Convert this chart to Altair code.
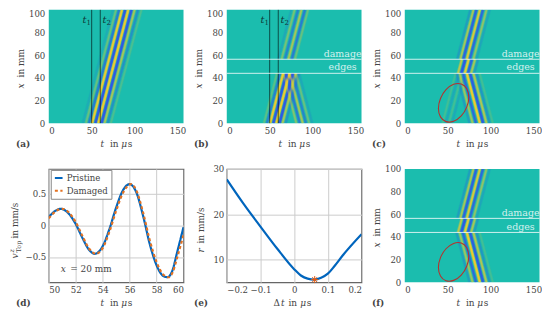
import altair as alt
import pandas as pd

SERIF = "DejaVu Serif"
TEAL = "#1BBDAE"
INK = "#444444"
COL = {"Y": "#F2CB2C", "B": "#2F55E6"}
W, H = 135.5, 114
TICK = 8.6
LAB = 9

# ---------- heat-map ridges: t at the lower / upper end of each band section ----------
A_T0 = [39.6, 43.3, 46.9, 50.5, 54.4, 57.8, 61.6, 65.0, 68.7, 72.4]
A_T1 = [74.6, 78.3, 81.9, 85.3, 89.1, 92.6, 96.4, 100.0, 104.0, 108.0]
A_K = ["B", "Y", "B", "Y", "B", "Y", "B", "Y", "B", "Y"]
A_O = [0.1, 0.25, 0.5, 0.95, 1.0, 1.0, 1.0, 0.5, 0.3, 0.15]

# (b) incident up to lower edge, reflected down, transmitted above
B1_T0 = [43.3, 46.9, 50.5, 54.4, 57.8, 61.6, 65.0, 68.7]
B1_T1 = [58.5, 62.1, 65.7, 69.6, 73.0, 76.8, 80.2, 83.9]
B1_K = ["Y", "B", "Y", "B", "Y", "B", "Y", "B"]
B1_O = [0.2, 0.45, 0.95, 1.0, 1.0, 1.0, 0.5, 0.25]
B2_T0 = [81.0, 85.0, 88.5, 92.2, 96.0, 99.6]
B2_T1 = [66.0, 69.7, 73.3, 77.0, 80.7, 84.4]
B2_K = ["Y", "B", "Y", "B", "Y", "B"]
B2_O = [0.35, 0.5, 0.5, 0.4, 0.25, 0.12]
B3_T0 = [59.9, 63.8, 67.8, 71.8, 75.8, 79.5]
B3_T1 = [75.1, 79.0, 83.0, 87.0, 91.0, 94.7]
B3_K = ["B", "Y", "B", "Y", "B", "Y"]
B3_O = [0.12, 0.3, 0.4, 0.5, 0.5, 0.25]

# (c, f) left-going below the damage, zig-zag inside it, right-going above
C1_T0 = [75.4, 79.0, 83.0, 87.5, 91.3, 95.2, 98.9, 102.6]
C1_T1 = [60.2, 63.8, 67.7, 72.3, 76.1, 80.0, 83.7, 87.4]
C1_K = ["B", "Y", "B", "Y", "B", "Y", "B", "Y"]
C1_O = [0.2, 0.45, 0.7, 1.0, 0.9, 0.55, 0.25, 0.12]
C2_T0 = [62.0, 66.0, 70.0, 73.7, 77.4, 81.0]
C2_T1 = [66.5, 70.5, 74.5, 78.2, 81.9, 85.5]
C2_K = ["Y", "B", "Y", "B", "Y", "B"]
C2_O = [0.6, 1.0, 0.9, 0.8, 0.5, 0.2]
C3_T0 = [61.1, 64.8, 68.2, 72.3, 75.8, 80.0, 83.7]
C3_T1 = [76.3, 80.0, 83.4, 87.5, 91.0, 95.2, 98.9]
C3_K = ["B", "Y", "B", "Y", "B", "Y", "B"]
C3_O = [0.2, 0.5, 0.8, 0.8, 0.7, 0.4, 0.15]
C4_T0 = [44.0, 47.8, 51.5, 55.2]
C4_T1 = [59.2, 63.0, 66.7, 70.4]
C4_K = ["Y", "B", "Y", "B"]
C4_O = [0.12, 0.12, 0.12, 0.12]

T_LINES = [50, 60]
EDGES = [44, 56.4]

ELL_T = [74.6, 72.2, 65.8, 56.9, 48.05, 41.6, 39.2, 41.6, 48.05, 56.9, 65.8, 72.2]
ELL_X = [23.0, 30.4, 34.6, 34.3, 29.6, 21.8, 13.0, 5.6, 1.4, 1.7, 6.4, 14.2]

# ---------- (d) ----------
D_T_P = [50, 50.5, 50.9, 51.5, 52, 52.5, 53, 53.4, 54, 54.5, 55, 55.5, 56, 56.5, 57, 57.5, 58, 58.5, 58.8, 59.2, 59.5, 60]
D_V_P = [0.13, 0.23, 0.26, 0.18, 0.02, -0.2, -0.39, -0.45, -0.33, -0.06, 0.28, 0.55, 0.65, 0.52, 0.15, -0.3, -0.63, -0.8, -0.82, -0.7, -0.45, -0.03]
D_T_D = [50, 50.5, 51, 51.5, 52, 52.5, 53, 53.5, 54, 54.5, 55, 55.5, 56.1, 56.5, 57, 57.5, 58, 58.5, 58.9, 59.2, 59.5, 60]
D_V_D = [0.11, 0.22, 0.26, 0.2, 0.05, -0.17, -0.37, -0.45, -0.36, -0.1, 0.23, 0.51, 0.65, 0.55, 0.2, -0.24, -0.58, -0.78, -0.82, -0.74, -0.53, -0.15]

# ---------- (e) ----------
E_DT = [-0.2, -0.15, -0.1, -0.05, 0.0, 0.02, 0.04, 0.06, 0.08, 0.1, 0.12, 0.144, 0.2]
E_R = [27.7, 22.3, 17.3, 12.4, 7.9, 6.5, 5.8, 5.6, 6.0, 6.9, 8.6, 10.9, 15.6]
E_MIN_DT = [0.061]
E_MIN_R = [5.6]


def section(x0, x1, t0, t1, kinds, ops, tag):
    rows = []
    for i, (a, b, k, o) in enumerate(zip(t0, t1, kinds, ops)):
        rows.append({"id": f"{tag}{i}", "n": 0, "t": a, "x": x0, "c": COL[k], "o": o * 0.6, "o2": o})
        rows.append({"id": f"{tag}{i}", "n": 1, "t": b, "x": x1, "c": COL[k], "o": o * 0.6, "o2": o})
    return rows


TSCALE = alt.Scale(domain=[0, 157], nice=False, zero=False)
XSCALE = alt.Scale(domain=[0, 100], nice=False, zero=False)
AX = dict(title=None, grid=False, ticks=False, domain=False, labelFont=SERIF, labelFontSize=TICK, labelColor=INK)
TAX = alt.Axis(values=[0, 50, 100, 150], labelPadding=3, labelAngle=0, **AX)
XAX_TOP = alt.Axis(values=[0, 20, 40, 60, 80, 100], labelPadding=4,
                   labelBaseline={"expr": "datum.value == 100 ? 'top' : 'middle'"}, **AX)
XAX = alt.Axis(values=[0, 20, 40, 60, 80, 100], labelPadding=4, **AX)


def txt(s, x, y, size=LAB, style="normal", weight="normal", align="left", angle=0, color=INK, opacity=1.0):
    return alt.Chart().mark_text(
        font=SERIF, fontSize=size, fontStyle=style, fontWeight=weight, align=align,
        baseline="middle", angle=angle, color=color, opacity=opacity,
    ).encode(x=alt.value(x), y=alt.value(y), text=alt.value(s))


def xtitle_t():
    return [txt("t", 52, 135, style="italic"), txt("in", 61.5, 135), txt("μ", 73, 135, style="italic"), txt("s", 79.5, 135)]


def ytitle_x():
    return [txt("x", -28, 79, style="italic", angle=270), txt("in mm", -28, 68, angle=270)]


def heat(rows, top=False, extras=None):
    df = pd.DataFrame(rows)
    yax = XAX_TOP if top else XAX
    enc = dict(
        x=alt.X("t:Q", scale=TSCALE, axis=TAX),
        y=alt.Y("x:Q", scale=XSCALE, axis=yax),
        detail="id:N",
        order="n:Q",
        color=alt.Color("c:N", scale=None),
    )
    outer = alt.Chart(df).mark_line(clip=True, strokeWidth=3.2, strokeCap="butt").encode(
        opacity=alt.Opacity("o:Q", scale=None), **enc)
    inner = alt.Chart(df).mark_line(clip=True, strokeWidth=1.6, strokeCap="butt").encode(
        opacity=alt.Opacity("o2:Q", scale=None), **enc)
    layers = [outer, inner]
    for e in extras:
        layers += e(yax) if callable(e) else [e]
    return alt.layer(*layers).properties(width=W, height=H, view=alt.ViewBackground(fill=TEAL, stroke=None))


def t_rules(yax):
    return [alt.Chart(pd.DataFrame({"t": T_LINES})).mark_rule(color="#000000", opacity=0.6, strokeWidth=1).encode(
        x=alt.X("t:Q", scale=TSCALE, axis=TAX))]


def t_labels():
    c = "#0E3B38"
    return [txt("t", 34, 10, style="italic", size=10, color=c), txt("1", 38, 13, size=7, color=c),
            txt("t", 54, 10, style="italic", size=10, color=c), txt("2", 58, 13, size=7, color=c)]


def edge_marks(yax):
    return [
        alt.Chart(pd.DataFrame({"x": EDGES})).mark_rule(color="#FFFFFF", opacity=0.8, strokeWidth=1).encode(
            y=alt.Y("x:Q", scale=XSCALE, axis=yax)),
        txt("damage", 116.5, 44, size=9.5, align="center", color="#FFFFFF", opacity=0.8),
        txt("edges", 116.5, 58, size=9.5, align="center", color="#FFFFFF", opacity=0.8),
    ]


def ellipse(yax):
    df = pd.DataFrame({"t": ELL_T, "x": ELL_X, "n": range(len(ELL_T))})
    return [alt.Chart(df).mark_line(color="#B5322E", strokeWidth=1.1, interpolate="cardinal-closed", clip=True).encode(
        x=alt.X("t:Q", scale=TSCALE, axis=TAX),
        y=alt.Y("x:Q", scale=XSCALE, axis=yax),
        order="n:Q",
    )]


rows_a = section(0, 100, A_T0, A_T1, A_K, A_O, "a")
rows_b = (section(0, 44, B1_T0, B1_T1, B1_K, B1_O, "p") + section(0, 44, B2_T0, B2_T1, B2_K, B2_O, "q")
          + section(56.4, 100, B3_T0, B3_T1, B3_K, B3_O, "r"))
rows_f = (section(0, 44, C1_T0, C1_T1, C1_K, C1_O, "p") + section(44, 56.4, C2_T0, C2_T1, C2_K, C2_O, "q")
          + section(56.4, 100, C3_T0, C3_T1, C3_K, C3_O, "r"))
rows_c = rows_f + section(0, 44, C4_T0, C4_T1, C4_K, C4_O, "s")

pa = heat(rows_a, True, [t_rules, *t_labels(), *ytitle_x(), *xtitle_t(), txt("(a)", -33, 135, weight="bold")])
pb = heat(rows_b, True, [t_rules, edge_marks, *t_labels(), *ytitle_x(), *xtitle_t(), txt("(b)", -33, 135, weight="bold")])
pc = heat(rows_c, True, [edge_marks, ellipse, *ytitle_x(), *xtitle_t(), txt("(c)", -33, 135, weight="bold")])
pf = heat(rows_f, False, [edge_marks, ellipse, *ytitle_x(), *xtitle_t(), txt("(f)", -33, 135, weight="bold")])

FRAME = alt.ViewBackground(fill="#FFFFFF", stroke="#666666", strokeWidth=1.2)


def line_axis(values, fmt):
    return alt.Axis(values=values, title=None, grid=True, gridColor="#CCCCCC", gridWidth=1, ticks=False, domain=False,
                    labelFont=SERIF, labelFontSize=TICK, labelColor=INK, labelPadding=3, format=fmt, labelAngle=0)


df_d = pd.DataFrame(
    [{"t": a, "v": b, "s": "Pristine", "n": i} for i, (a, b) in enumerate(zip(D_T_P, D_V_P))]
    + [{"t": a, "v": b, "s": "Damaged", "n": i} for i, (a, b) in enumerate(zip(D_T_D, D_V_D))]
)
legend = alt.Legend(orient="none", legendX=2, legendY=1, title=None, fillColor="#FFFFFF", strokeColor="#888888",
                    labelFont=SERIF, labelFontSize=TICK, labelColor=INK, symbolType="stroke",
                    symbolStrokeWidth=2, symbolSize=60, padding=3, rowPadding=3, labelOffset=3)
dline = alt.Chart(df_d).mark_line(clip=True, strokeWidth=2.2, interpolate="monotone").encode(
    x=alt.X("t:Q", scale=alt.Scale(domain=[50, 60], nice=False, zero=False), axis=line_axis([50, 52, 54, 56, 58, 60], "d")),
    y=alt.Y("v:Q", scale=alt.Scale(domain=[-0.9, 0.89], nice=False, zero=False), axis=line_axis([-0.5, 0, 0.5], "~g")),
    color=alt.Color("s:N", scale=alt.Scale(domain=["Pristine", "Damaged"], range=["#0065BD", "#E37222"]), legend=legend),
    strokeDash=alt.StrokeDash("s:N", scale=alt.Scale(domain=["Pristine", "Damaged"], range=[[1, 0], [3, 2.5]]), legend=legend),
    order="n:Q",
)
pd_ = alt.layer(
    dline,
    txt("x", 12, 101, style="italic"), txt("= 20 mm", 21.5, 101),
    txt("v", -34, 90, style="italic", angle=270),
    txt("z", -37, 84, size=6.5, style="italic", angle=270),
    txt("Top", -30, 84, size=6.5, angle=270),
    txt("in mm/s", -34, 70, angle=270),
    *xtitle_t(),
    txt("(d)", -33, 135, weight="bold"),
).properties(width=W, height=H, view=FRAME)

EX = alt.X("d:Q", scale=alt.Scale(domain=[-0.2, 0.2], nice=False, zero=False), axis=line_axis([-0.2, -0.1, 0, 0.1, 0.2], "~g"))
EY = alt.Y("r:Q", scale=alt.Scale(domain=[5, 30], nice=False, zero=False), axis=line_axis([10, 20, 30], "d"))
eline = alt.Chart(pd.DataFrame({"d": E_DT, "r": E_R})).mark_line(clip=True, strokeWidth=2.2, color="#0065BD", interpolate="monotone").encode(x=EX, y=EY)
estar = alt.Chart(pd.DataFrame({"d": E_MIN_DT, "r": E_MIN_R})).mark_point(
    shape="M-1,0L1,0M0,-1L0,1M-.7,-.7L.7,.7M-.7,.7L.7,-.7", size=50, color="#E8590C", strokeWidth=1, filled=False, opacity=1).encode(x=EX, y=EY)
pe = alt.layer(
    eline, estar,
    txt("r", -26, 84, style="italic", angle=270), txt("in mm/s", -26, 75, angle=270),
    txt("Δ", 47, 135), txt("t", 54.5, 135, style="italic"), txt("in", 62, 135), txt("μ", 74, 135, style="italic"), txt("s", 80.5, 135),
    txt("(e)", -33, 135, weight="bold"),
).properties(width=W, height=H, view=FRAME)

chart = alt.concat(pa, pb, pc, pd_, pe, pf, columns=3, spacing={"row": 46, "column": 43}, bounds="flush").properties(
    padding={"left": 0, "top": 0, "right": 0, "bottom": 0}
).resolve_scale(color="independent", x="independent", y="independent", strokeDash="independent")

chart.save("out.html", embed_options={"renderer": "svg", "actions": False})
